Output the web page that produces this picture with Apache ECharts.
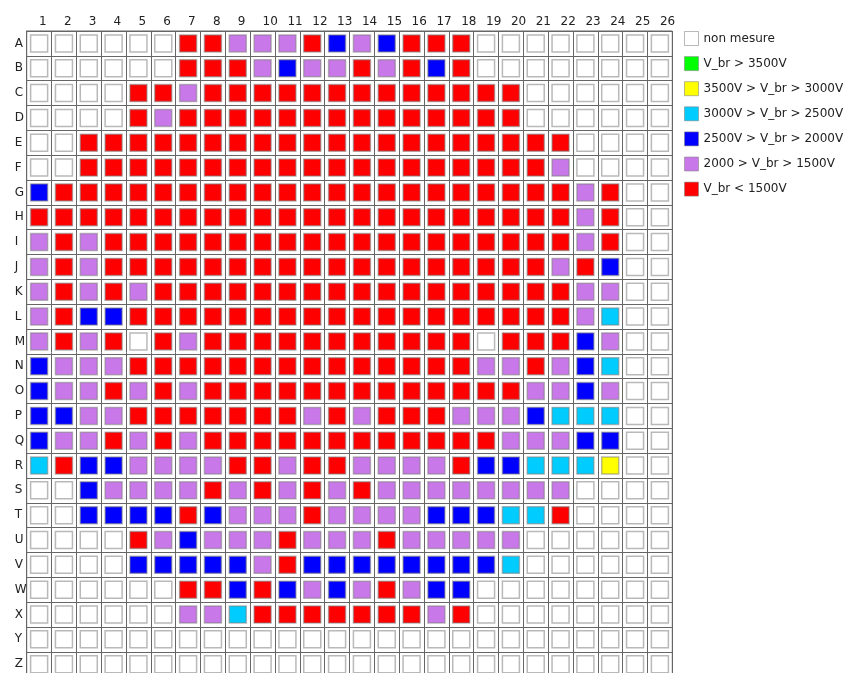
<!DOCTYPE html>
<html>
<head>
<meta charset="utf-8">
<script src="https://cdn.jsdelivr.net/npm/echarts@6/dist/echarts.min.js"></script>
<style>
  html, body { margin: 0; padding: 0; background: #ffffff; }
  #chart { width: 850px; height: 673px; }
</style>
</head>
<body>
<div id="chart"></div>
<script>
// Column and row labels of the wafer map
const columnLabels = ['1','2','3','4','5','6','7','8','9','10','11','12','13',
                      '14','15','16','17','18','19','20','21','22','23','24','25','26'];
const rowLabels = ['A','B','C','D','E','F','G','H','I','J','K','L','M',
                   'N','O','P','Q','R','S','T','U','V','W','X','Y','Z'];

// Breakdown-voltage classes (legend order)
const classNames = ['non mesure', 'V_br > 3500V', '3500V > V_br > 3000V', '3000V > V_br > 2500V',
                    '2500V > V_br > 2000V', '2000 > V_br > 1500V', 'V_br < 1500V'];
const classCodes = ['.', 'g', 'y', 'c', 'b', 'p', 'r'];
const classColors = ['#ffffff', '#00ff00', '#ffff00', '#00ccff', '#0000ff', '#c878e8', '#ff0000'];

// One string per row, one character per column (cols 1-13, space, cols 14-26)
const waferMap = [
  '......rrppprb pbrrr........', // A
  '......rrrpbpp rprbr........', // B
  '....rrprrrrrr rrrrrrr......', // C
  '....rprrrrrrr rrrrrrr......', // D
  '..rrrrrrrrrrr rrrrrrrrr....', // E
  '..rrrrrrrrrrr rrrrrrrrp....', // F
  'brrrrrrrrrrrr rrrrrrrrrpr..', // G
  'rrrrrrrrrrrrr rrrrrrrrrpr..', // H
  'prprrrrrrrrrr rrrrrrrrrpr..', // I
  'prprrrrrrrrrr rrrrrrrrprb..', // J
  'prprprrrrrrrr rrrrrrrrrpp..', // K
  'prbbrrrrrrrrr rrrrrrrrrpc..', // L
  'prpr.rprrrrrr rrrrr.rrrbp..', // M
  'bppprrrrrrrrr rrrrrpprpbc..', // N
  'bpprprprrrrrr rrrrrrrppbp..', // O
  'bbpprrrrrrrpr prrrpppbccc..', // P
  'bpprprprrrrrr rrrrrrpppbb..', // Q
  'crbbpppprrprr pppprbbcccy..', // R
  '..bpppprprprp rpppppppp....', // S
  '..bbbbrbppprp pppbbbccr....', // T
  '....rpbppprpp prppppp......', // U
  '....bbbbbprbb bbbbbbc......', // V
  '......rrbrbpb prpbb........', // W
  '......ppcrrrr rrrpr........', // X
  '............. .............', // Y
  '............. .............'  // Z
];

const FONT = 'DejaVu Sans';
const TEXT = '#222222';
const GRID_LINE = '#666666';
const CELL_EDGE = 'rgba(128,128,128,0.55)';

const cells = waferMap.map(s => s.replace(/ /g, ''));

const series = classCodes.map((code, k) => {
  const points = [];
  cells.forEach((row, r) => {
    for (let c = 0; c < row.length; c++) {
      if (row[c] === code) points.push([c, r]);
    }
  });
  return {
    name: classNames[k],
    type: 'scatter',
    symbol: 'rect',
    symbolSize: 17,
    data: points,
    itemStyle: { color: classColors[k], borderColor: CELL_EDGE, borderWidth: 1.5, opacity: 1 },
    emphasis: { disabled: true },
    silent: true
  };
});

const chart = echarts.init(document.getElementById('chart'), null, { renderer: 'canvas' });
chart.setOption({
  backgroundColor: '#ffffff',
  animation: false,
  grid: {
    left: 26.7, top: 31, width: 645.6, height: 645.6,
    show: true, borderColor: GRID_LINE, borderWidth: 1,
    outerBoundsMode: 'none', containLabel: false
  },
  legend: {
    orient: 'vertical',
    left: 684, top: 31,
    padding: 0,
    itemWidth: 14, itemHeight: 14, itemGap: 10.1,
    selectedMode: false,
    icon: 'rect',
    textStyle: { fontFamily: FONT, fontSize: 12, color: TEXT },
    data: classNames.map((n, k) => ({
      name: n,
      icon: 'rect',
      itemStyle: { color: classColors[k], borderColor: CELL_EDGE, borderWidth: 1 }
    }))
  },
  xAxis: {
    type: 'category',
    data: columnLabels,
    position: 'top',
    boundaryGap: true,
    axisTick: { show: false },
    axisLine: { show: true, lineStyle: { color: GRID_LINE, width: 1 } },
    axisLabel: {
      interval: 0, hideOverlap: false, align: 'left', margin: 3,
      fontFamily: FONT, fontSize: 12, color: TEXT
    },
    splitLine: { show: true, lineStyle: { color: GRID_LINE, width: 1 } }
  },
  yAxis: {
    type: 'category',
    data: rowLabels,
    inverse: true,
    boundaryGap: true,
    axisTick: { show: false },
    axisLine: { show: true, lineStyle: { color: GRID_LINE, width: 1 } },
    axisLabel: {
      interval: 0, hideOverlap: false, align: 'left', margin: 12,
      padding: [5, 0, 0, 0],
      fontFamily: FONT, fontSize: 12, color: TEXT
    },
    splitLine: { show: true, lineStyle: { color: GRID_LINE, width: 1 } }
  },
  series: series
});
</script>
</body>
</html>
